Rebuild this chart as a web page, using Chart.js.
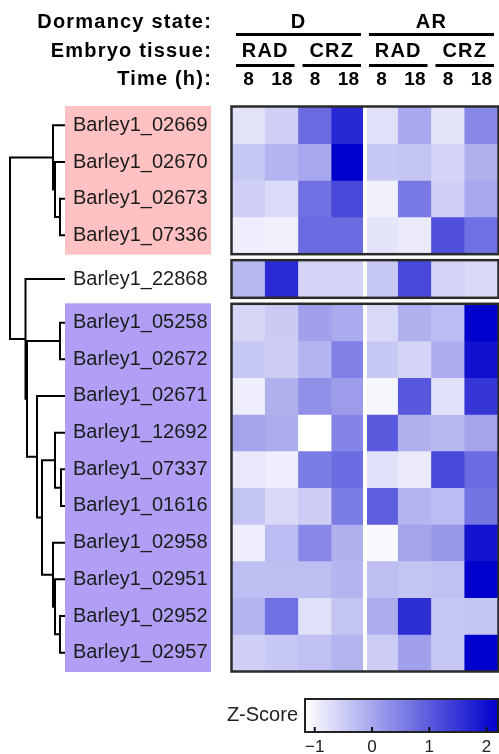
<!DOCTYPE html>
<html>
<head>
<meta charset="utf-8">
<script src="https://cdn.jsdelivr.net/npm/chart.js@4/dist/chart.umd.min.js"></script>
<style>
  html, body { margin: 0; padding: 0; background: #fff; }
  #wrap { position: relative; width: 499px; height: 754px; overflow: hidden; }
  canvas { position: absolute; }
  #tree { left: 0; top: 0; }
  #heat { left: 0; top: 0; }
  #scale { left: 200px; top: 690px; }
</style>
</head>
<body>
<div id="wrap">
  <canvas id="tree" width="66" height="754"></canvas>
  <canvas id="heat" width="499" height="754"></canvas>
  <canvas id="scale" width="299" height="64"></canvas>
</div>
<script>
/* ----- dados ----- */
const genes = [
  'Barley1_02669', 'Barley1_02670', 'Barley1_02673', 'Barley1_07336',
  'Barley1_22868',
  'Barley1_05258', 'Barley1_02672', 'Barley1_02671', 'Barley1_12692', 'Barley1_07337',
  'Barley1_01616', 'Barley1_02958', 'Barley1_02951', 'Barley1_02952', 'Barley1_02957'
];
const blockSizes = [4, 1, 10];
const headerTitles = ['Dormancy state:', 'Embryo tissue:', 'Time (h):'];
const states = ['D', 'AR'];
const tissues = ['RAD', 'CRZ', 'RAD', 'CRZ'];
const times = ['8', '18', '8', '18', '8', '18', '8', '18'];

// z-scores, colunas: D RAD 8/18, D CRZ 8/18, AR RAD 8/18, AR CRZ 8/18
const zUpper = [
  [-0.79, -0.55, 0.80, 1.67, -0.76, -0.02, -0.81, 0.40],
  [-0.44, -0.18, -0.02, 2.20, -0.44, -0.39, -0.60, -0.13],
  [-0.55, -0.71, 0.72, 1.25, -0.97, 0.61, -0.55, -0.02],
  [-0.95, -0.97, 0.80, 0.80, -0.81, -0.89, 1.14, 0.72]
];
const zSingle = [
  [-0.23, 1.64, -0.60, -0.60, -0.44, 1.25, -0.60, -0.65]
];
const zLower = [
  [-0.63, -0.47, 0.09, -0.05, -0.65, -0.13, -0.28, 2.20],
  [-0.44, -0.50, -0.18, 0.51, -0.44, -0.60, -0.07, 1.99],
  [-0.95, -0.13, 0.30, 0.14, -1.05, 1.04, -0.76, 1.49],
  [0.03, -0.07, -1.17, 0.46, 1.01, -0.13, -0.23, 0.03],
  [-0.87, -0.95, 0.56, 0.77, -0.76, -0.89, 1.25, 0.77],
  [-0.39, -0.65, -0.50, 0.56, 0.96, -0.18, -0.28, 0.67],
  [-0.95, -0.28, 0.40, -0.13, -1.10, 0.03, 0.19, 1.94],
  [-0.31, -0.31, -0.31, -0.18, -0.31, -0.39, -0.34, 2.20],
  [-0.18, 0.72, -0.76, -0.39, -0.07, 1.59, -0.44, -0.39],
  [-0.55, -0.44, -0.34, -0.18, -0.50, 0.09, -0.44, 2.20]
];

// dendrograma: [filhoA, filhoB, altura]; 0-14 = genes, 15+ = junções anteriores
const merges = [
  [2, 3, 5], [1, 15, 10], [0, 16, 12],
  [5, 6, 5], [9, 10, 4], [8, 19, 10],
  [13, 14, 5], [12, 21, 10], [11, 22, 12],
  [20, 23, 23], [7, 24, 28], [18, 25, 38],
  [4, 26, 39.5], [17, 27, 55]
];

const colorTicks = [-1, 0, 1, 2];
const zMin = -1.17;
const zMax = 2.2;

/* ----- utilidades ----- */
const blockGap = 0.19;
const boxColors = ['#FFC1C1', null, '#B09FF4'];

function zColor(v) {
  const t = Math.max(0, Math.min(1, (v - zMin) / (zMax - zMin)));
  const rg = Math.round(255 * (1 - t));
  const b = Math.round(255 - 51 * t);
  return `rgb(${rg},${rg},${b})`;
}

const zAll = [...zUpper, ...zSingle, ...zLower];
const rowTop = [];
const blocks = [];
let idx = 0;
blockSizes.forEach((n, b) => {
  const first = idx;
  for (let k = 0; k < n; k++) { rowTop.push(idx + b * blockGap); idx++; }
  blocks.push({ top: rowTop[first], bottom: rowTop[idx - 1] + 1, color: boxColors[b] });
});
const rowMid = rowTop.map(t => t + 0.5);
const yMax = genes.length + (blockSizes.length - 1) * blockGap;

Chart.defaults.font.family = '"Liberation Sans", Arial, Helvetica, sans-serif';

/* ----- heatmap ----- */
const heatPlugin = {
  id: 'heatExtras',
  beforeDraw(chart) {
    const { ctx, scales: { y } } = chart;
    ctx.save();
    blocks.forEach(bl => {
      if (!bl.color) return;
      const t = y.getPixelForValue(bl.top) - 1;
      const btm = y.getPixelForValue(bl.bottom) + 1;
      ctx.fillStyle = bl.color;
      ctx.fillRect(65, t, 146, btm - t);
    });
    ctx.restore();
  },
  afterDatasetsDraw(chart) {
    const { ctx, chartArea, scales: { x, y } } = chart;
    ctx.save();
    const sepX = x.getPixelForValue(3.5);
    blocks.forEach(bl => {
      const t = y.getPixelForValue(bl.top);
      const btm = y.getPixelForValue(bl.bottom);
      ctx.fillStyle = '#fff';
      ctx.fillRect(sepX - 2, t, 4, btm - t);
      ctx.strokeStyle = '#2b2b2b';
      ctx.lineWidth = 2.5;
      ctx.strokeRect(chartArea.left - 0.5, t - 0.5, chartArea.right - chartArea.left + 1, btm - t + 1);
    });
    ctx.restore();
  },
  afterDraw(chart) {
    const { ctx, scales: { x } } = chart;
    ctx.save();
    ctx.fillStyle = '#000';
    ctx.font = 'bold 20px "Liberation Sans", Arial, sans-serif';
    ctx.letterSpacing = '1.2px';
    ctx.textAlign = 'right';
    ctx.textBaseline = 'alphabetic';
    const baselines = [28, 57, 85];
    headerTitles.forEach((txt, i) => ctx.fillText(txt, 212, baselines[i]));

    const drawGroup = (labels, span, base, lineY) => {
      labels.forEach((lab, i) => {
        const l = x.getPixelForValue(i * span - 0.5) + 4;
        const r = x.getPixelForValue(i * span + span - 0.5) - 4;
        ctx.textAlign = 'center';
        ctx.fillText(lab, (l + r) / 2, base);
        ctx.fillRect(l, lineY, r - l, 3);
      });
    };
    drawGroup(states, 4, 28, 33);
    drawGroup(tissues, 2, 57, 64);
    ctx.restore();
  }
};

new Chart(document.getElementById('heat'), {
  type: 'bar',
  data: {
    labels: times,
    datasets: zAll.map((row, i) => ({
      label: genes[i],
      data: row.map(() => [rowTop[i], rowTop[i] + 1]),
      backgroundColor: row.map(zColor),
      borderWidth: 0,
      grouped: false,
      barPercentage: 1,
      categoryPercentage: 1
    }))
  },
  options: {
    responsive: false,
    animation: false,
    devicePixelRatio: 1,
    layout: { padding: { left: 73, right: 1, top: 67, bottom: 83 } },
    plugins: { legend: { display: false }, tooltip: { enabled: false } },
    scales: {
      x: {
        position: 'top',
        offset: true,
        grid: { display: false, drawTicks: false },
        border: { display: false },
        ticks: { font: { size: 19, weight: 'bold' }, color: '#000', padding: 16, autoSkip: false, maxRotation: 0 },
        afterFit: s => { s.height = 40; s.paddingLeft = 0; s.paddingRight = 0; }
      },
      y: {
        type: 'linear',
        reverse: true,
        min: 0,
        max: yMax,
        grid: { display: false, drawTicks: false },
        border: { display: false },
        ticks: {
          autoSkip: false,
          crossAlign: 'far',
          padding: 0,
          font: { size: 20 },
          color: '#1c1c1c',
          callback: (v, i) => genes[i]
        },
        afterBuildTicks: s => { s.ticks = rowMid.map(v => ({ value: v })); },
        afterFit: s => { s.width = 159; s.paddingTop = 0; s.paddingBottom = 0; }
      }
    }
  },
  plugins: [heatPlugin]
});

/* ----- dendrograma ----- */
const nodeY = rowMid.slice();
const nodeH = genes.map(() => 0);
const treeSets = merges.map(([a, b, h]) => {
  const ya = nodeY[a], yb = nodeY[b];
  const set = {
    data: [
      { x: nodeH[a], y: ya }, { x: h, y: ya },
      { x: h, y: yb }, { x: nodeH[b], y: yb }
    ],
    showLine: true,
    borderColor: '#000',
    borderWidth: 2,
    pointRadius: 0,
    tension: 0,
    clip: false
  };
  nodeY.push((ya + yb) / 2);
  nodeH.push(h);
  return set;
});

new Chart(document.getElementById('tree'), {
  type: 'scatter',
  data: { datasets: treeSets },
  options: {
    responsive: false,
    animation: false,
    devicePixelRatio: 1,
    layout: { padding: { left: 0, right: 1, top: 107, bottom: 83 } },
    plugins: { legend: { display: false }, tooltip: { enabled: false } },
    scales: {
      x: { type: 'linear', reverse: true, min: 0, max: 65, display: false },
      y: { type: 'linear', reverse: true, min: 0, max: yMax, display: false }
    }
  }
});

/* ----- escala de cores ----- */
const colorbarPlugin = {
  id: 'colorbar',
  beforeDatasetsDraw(chart) {
    const { ctx, chartArea: a, scales: { x } } = chart;
    ctx.save();
    const g = ctx.createLinearGradient(a.left, 0, a.right, 0);
    for (let k = 0; k <= 10; k++) g.addColorStop(k / 10, zColor(zMin + (zMax - zMin) * k / 10));
    ctx.fillStyle = g;
    ctx.fillRect(a.left, a.top, a.right - a.left, a.bottom - a.top);
    ctx.strokeStyle = '#222';
    ctx.lineWidth = 2;
    ctx.strokeRect(a.left, a.top, a.right - a.left, a.bottom - a.top);
    ctx.fillStyle = '#111';
    colorTicks.forEach(v => {
      const px = x.getPixelForValue(v);
      ctx.fillRect(px - 1, a.bottom - 5, 2, 5);
    });
    ctx.fillStyle = '#222';
    ctx.font = '20px "Liberation Sans", Arial, sans-serif';
    ctx.textAlign = 'right';
    ctx.textBaseline = 'middle';
    ctx.fillText('Z-Score', a.left - 7, (a.top + a.bottom) / 2);
    ctx.restore();
  }
};

new Chart(document.getElementById('scale'), {
  type: 'scatter',
  data: { datasets: [{ data: [] }] },
  options: {
    responsive: false,
    animation: false,
    devicePixelRatio: 1,
    layout: { padding: { left: 105, right: 1, top: 9, bottom: 0 } },
    plugins: { legend: { display: false }, tooltip: { enabled: false } },
    scales: {
      x: {
        type: 'linear',
        min: zMin,
        max: zMax,
        grid: { display: false, drawTicks: false },
        border: { display: false },
        ticks: {
          font: { size: 17 },
          color: '#222',
          padding: 5,
          callback: v => (v < 0 ? '\u2212' + Math.abs(v) : String(v))
        },
        afterBuildTicks: s => { s.ticks = colorTicks.map(v => ({ value: v })); },
        afterFit: s => { s.height = 22; s.paddingLeft = 0; s.paddingRight = 0; }
      },
      y: { display: false, min: 0, max: 1 }
    }
  },
  plugins: [colorbarPlugin]
});
</script>
</body>
</html>
